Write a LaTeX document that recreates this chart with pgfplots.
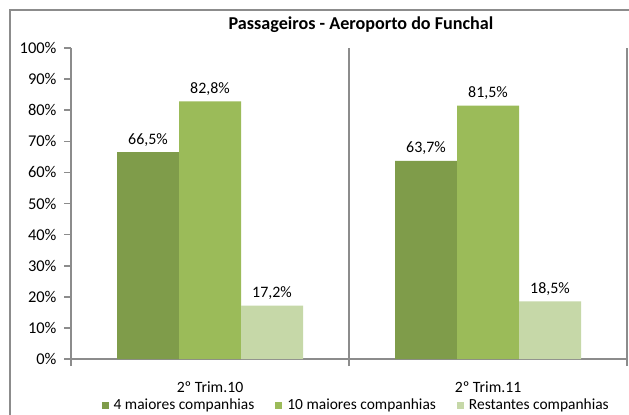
\documentclass[border=0pt]{standalone}
\usepackage{fontspec}
\setmainfont{Carlito}
\usepackage{pgfplots}
\pgfplotsset{compat=1.18}
\definecolor{darkg}{HTML}{7F9C4A}
\definecolor{midg}{HTML}{9BBB59}
\definecolor{lightg}{HTML}{C6D8A8}
\definecolor{axgray}{HTML}{8C8C8C}
\begin{document}
\begin{tikzpicture}[x=1bp,y=1bp]
\useasboundingbox (0,0) rectangle (629,414);
\fill[white] (0,0) rectangle (629,414);
\draw[axgray, line width=1.6bp] (10,-5) -- (10,404) -- (640,404);
\node[font=\fontsize{18.2}{21}\selectfont\bfseries] at (361,389) {Passageiros - Aeroporto do Funchal};
\begin{axis}[
  at={(71bp,55bp)}, anchor=south west,
  scale only axis, width=556bp, height=311bp,
  ymin=0, ymax=100, xmin=-0.5, xmax=1.5,
  axis x line*=bottom, axis y line*=left,
  axis line style={draw=axgray, line width=1.6bp},
  ytick={0,10,...,100},
  yticklabel={\pgfmathprintnumber{\tick}\%},
  /pgf/number format/assume math mode=true,
  tick align=outside,
  major tick length=7bp, minor tick length=7bp,
  tick style={draw=axgray, line width=1.6bp},
  xtick={0,1}, xticklabels={2º Trim.10, 2º Trim.11},
  major x tick style={draw=none},
  minor xtick={-0.5,0.5,1.5},
  xticklabel style={yshift=-12bp, font=\fontsize{15.8}{18}\selectfont},
  yticklabel style={xshift=-4bp, font=\fontsize{16.5}{18}\selectfont},
  ybar=0pt, bar width=62bp,
  nodes near coords={\pgfmathprintnumber[fixed,fixed zerofill,precision=1,use comma]{\pgfplotspointmeta}\%},
  nodes near coords style={font=\fontsize{16}{18}\selectfont, inner sep=0pt, anchor=base, yshift=8bp},
  legend image code/.code={\fill[#1,draw=none] (0bp,-3.5bp) rectangle (7bp,3.5bp);},
  legend style={at={(0.513,-0.148)}, anchor=center, draw=none, fill=none,
    legend columns=3, font=\fontsize{15.5}{18}\selectfont,
    /tikz/every odd column/.append style={column sep=3bp},
    /tikz/every even column/.append style={column sep=19bp},
    inner sep=0pt, nodes={inner sep=2bp}},
  clip=false,
]
\addplot[fill=darkg, draw=none] coordinates {(0,66.5) (1,63.7)};
\addplot[fill=midg, draw=none] coordinates {(0,82.8) (1,81.5)};
\addplot[fill=lightg, draw=none] coordinates {(0,17.2) (1,18.5)};
\legend{4 maiores companhias, 10 maiores companhias, Restantes companhias}
\draw[axgray, line width=1.6bp] (axis cs:0.5,0) -- (axis cs:0.5,100);
\draw[axgray, line width=1.6bp] (axis cs:1.5,0) -- (axis cs:1.5,100);
\end{axis}
\end{tikzpicture}
\end{document}
